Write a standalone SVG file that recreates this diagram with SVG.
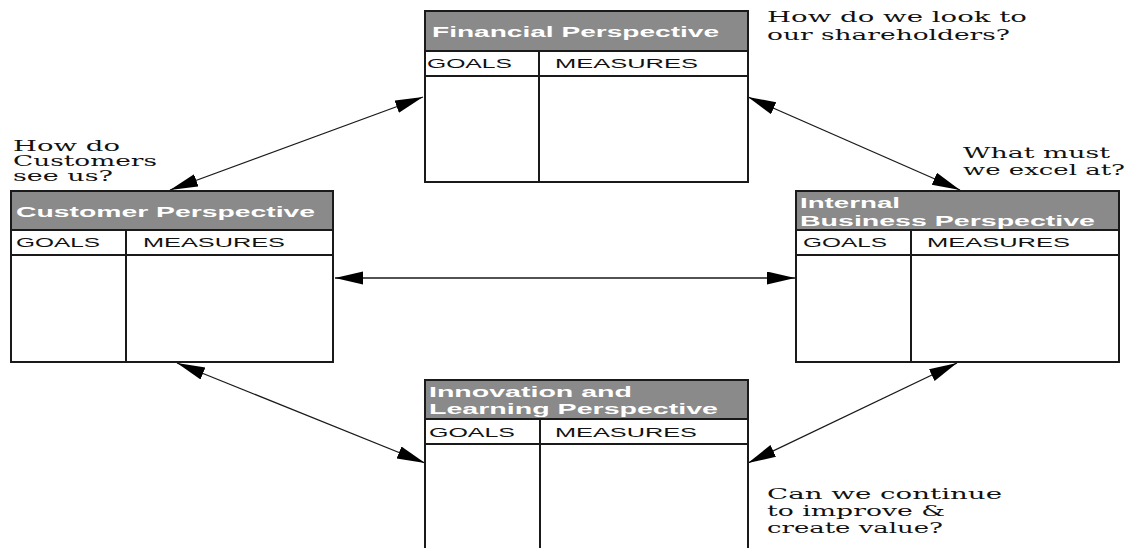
<svg xmlns="http://www.w3.org/2000/svg" width="1127" height="548" viewBox="0 0 1127 548">
<style>
.box{fill:#fff;stroke:#1a1a1a;stroke-width:2}
.hdr{fill:#8a8a8a;stroke:#1a1a1a;stroke-width:2}
.ln{stroke:#1a1a1a;stroke-width:2;fill:none}
.ht{font-family:"Liberation Sans",Arial,sans-serif;font-weight:bold;font-size:15px;fill:#fff}
.col{font-family:"Liberation Sans",Arial,sans-serif;font-size:12px;fill:#111}
.q{font-family:"DejaVu Serif","Liberation Serif",serif;font-size:14px;fill:#111}
.con{stroke:#1a1a1a;stroke-width:1.3;fill:none;marker-start:url(#ah);marker-end:url(#ah)}
</style>
<defs>
<marker id="ah" markerUnits="userSpaceOnUse" markerWidth="30" markerHeight="14" refX="28" refY="6.5" orient="auto-start-reverse">
<path d="M0,0 L28,6.5 L0,13 Z" fill="#000"/>
</marker>
</defs>
<rect width="1127" height="548" fill="#fff"/>
<g id="connectors">
<line class="con" x1="423" y1="97" x2="170" y2="190"/>
<line class="con" x1="748" y1="97" x2="960" y2="190"/>
<line class="con" x1="335" y1="278" x2="795" y2="278"/>
<line class="con" x1="177" y1="363" x2="425" y2="463"/>
<line class="con" x1="957" y1="363" x2="748" y2="463"/>
</g>
<g id="financial">
<rect class="box" x="425" y="11" width="323" height="171"/>
<rect class="hdr" x="425" y="11" width="323" height="40"/>
<line class="ln" x1="425" y1="76" x2="748" y2="76"/>
<line class="ln" x1="539" y1="51" x2="539" y2="182"/>
<text class="ht" x="432" y="37" textLength="287" lengthAdjust="spacingAndGlyphs">Financial Perspective</text>
<text class="col" x="427" y="68" textLength="85" lengthAdjust="spacingAndGlyphs">GOALS</text>
<text class="col" x="555" y="68" textLength="143" lengthAdjust="spacingAndGlyphs">MEASURES</text>
</g>
<g id="customer">
<rect class="box" x="11" y="191" width="322" height="171"/>
<rect class="hdr" x="11" y="191" width="322" height="39"/>
<line class="ln" x1="11" y1="255" x2="333" y2="255"/>
<line class="ln" x1="126" y1="230" x2="126" y2="362"/>
<text class="ht" x="16" y="217" textLength="299" lengthAdjust="spacingAndGlyphs">Customer Perspective</text>
<text class="col" x="16" y="247" textLength="84" lengthAdjust="spacingAndGlyphs">GOALS</text>
<text class="col" x="143" y="247" textLength="142" lengthAdjust="spacingAndGlyphs">MEASURES</text>
</g>
<g id="internal">
<rect class="box" x="796" y="191" width="323" height="171"/>
<rect class="hdr" x="796" y="191" width="323" height="39"/>
<line class="ln" x1="796" y1="255" x2="1119" y2="255"/>
<line class="ln" x1="911" y1="230" x2="911" y2="362"/>
<text class="ht" x="800" y="208" textLength="100" lengthAdjust="spacingAndGlyphs">Internal</text>
<text class="ht" x="800" y="226" textLength="295" lengthAdjust="spacingAndGlyphs">Business Perspective</text>
<text class="col" x="803" y="247" textLength="84" lengthAdjust="spacingAndGlyphs">GOALS</text>
<text class="col" x="927" y="247" textLength="143" lengthAdjust="spacingAndGlyphs">MEASURES</text>
</g>
<g id="innovation">
<rect class="box" x="425" y="380" width="323" height="190"/>
<rect class="hdr" x="425" y="380" width="323" height="39"/>
<line class="ln" x1="425" y1="444" x2="748" y2="444"/>
<line class="ln" x1="540" y1="419" x2="540" y2="560"/>
<text class="ht" x="429" y="397" textLength="203" lengthAdjust="spacingAndGlyphs">Innovation and</text>
<text class="ht" x="429" y="414" textLength="289" lengthAdjust="spacingAndGlyphs">Learning Perspective</text>
<text class="col" x="429" y="437" textLength="86" lengthAdjust="spacingAndGlyphs">GOALS</text>
<text class="col" x="555" y="437" textLength="142" lengthAdjust="spacingAndGlyphs">MEASURES</text>
</g>
<g id="questions">
<text class="q" x="767" y="22" textLength="260" lengthAdjust="spacingAndGlyphs">How do we look to</text>
<text class="q" x="767" y="40" textLength="243" lengthAdjust="spacingAndGlyphs">our shareholders?</text>
<text class="q" x="13" y="151" textLength="107" lengthAdjust="spacingAndGlyphs">How do</text>
<text class="q" x="13" y="166" textLength="144" lengthAdjust="spacingAndGlyphs">Customers</text>
<text class="q" x="13" y="181" textLength="100" lengthAdjust="spacingAndGlyphs">see us?</text>
<text class="q" x="963" y="158" textLength="147" lengthAdjust="spacingAndGlyphs">What must</text>
<text class="q" x="963" y="175" textLength="162" lengthAdjust="spacingAndGlyphs">we excel at?</text>
<text class="q" x="767" y="499" textLength="235" lengthAdjust="spacingAndGlyphs">Can we  continue</text>
<text class="q" x="767" y="516" textLength="178" lengthAdjust="spacingAndGlyphs">to improve &amp;</text>
<text class="q" x="767" y="533" textLength="176" lengthAdjust="spacingAndGlyphs">create value?</text>
</g>
</svg>
